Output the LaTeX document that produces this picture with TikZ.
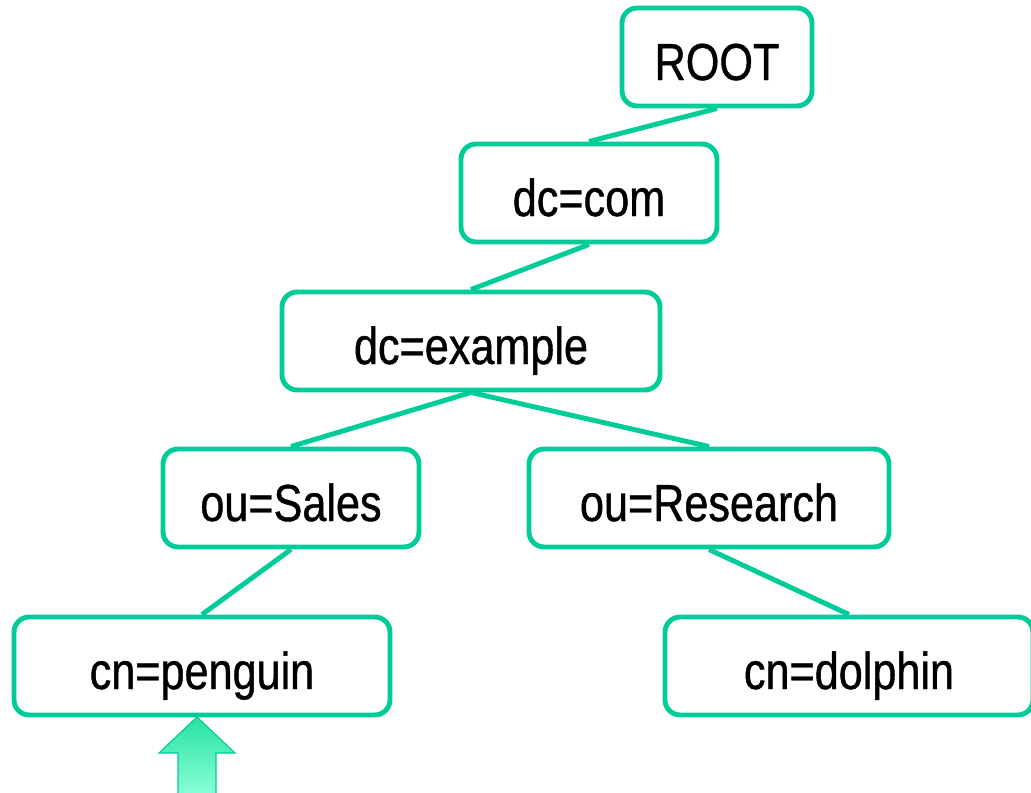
\documentclass[tikz,border=0pt]{standalone}
\usepackage{fontspec}
\setmainfont[FakeStretch=0.83,FakeBold=0.8]{Liberation Sans}
\definecolor{ldapgreen}{RGB}{0,204,153}
\definecolor{arrowtop}{RGB}{40,226,160}
\definecolor{arrowbottom}{RGB}{136,255,214}

\begin{document}
\begin{tikzpicture}
[x=0.025cm,y=-0.025cm,%
  entryDecorate/.style={shape=rectangle,draw=ldapgreen,line width=3.5pt,rounded corners=0.38cm,%
    fill=white,minimum height=2.45cm,inner sep=0pt,text height=1.3cm,text depth=0.15cm,%
    font=\fontsize{37}{40}\selectfont},%
  lineDecorate/.style={-,draw=ldapgreen,line width=3.5pt}]
\useasboundingbox (0,0) rectangle (1031,793);
%% entries of the tree
\foreach \nodename/\x/\y/\w/\txt in {
  root/717/57/190/ROOT, com/589/193/256/dc=com, example/471/341/378/dc=example,
  sales/291/498/256/ou=Sales, research/709/498/360/ou=Research,
  penguin/202/666/376/cn=penguin, dolphin/849/666/368/cn=dolphin}
{
  \node (\nodename) at (\x,\y) [entryDecorate,minimum width=\w*0.025cm] {\txt};
}
%% lines between entries
\path
\foreach \startnode/\endnode in {root/com, com/example, example/sales,
  example/research, sales/penguin, research/dolphin}
{
  (\startnode.south) edge[lineDecorate] (\endnode.north)
};
%% arrow under the entry
\coordinate (tip) at (197,717);
\draw[draw=ldapgreen,line width=0.8pt,top color=arrowtop,bottom color=arrowbottom]
  (tip) -- ++(38,36) -- ++(-19,0) -- ++(0,41) -- ++(-38,0) -- ++(0,-41) -- ++(-19,0) -- cycle;
\end{tikzpicture}
\end{document}
